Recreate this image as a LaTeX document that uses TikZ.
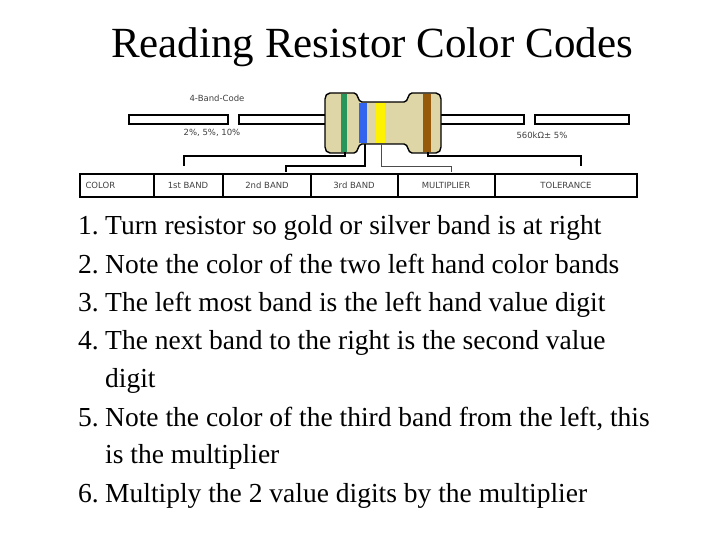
\documentclass[tikz,border=0pt]{standalone}
\usepackage{fontspec}
\setmainfont{Liberation Serif}
\newfontfamily\smallsans{DejaVu Sans}
\definecolor{bodytan}{RGB}{222,214,166}
\definecolor{bandgreen}{RGB}{40,150,90}
\definecolor{bandblue}{RGB}{50,100,240}
\definecolor{bandbrown}{RGB}{150,90,10}
\begin{document}
\begin{tikzpicture}[x=1pt,y=-1pt,
  wire/.style={draw=black,fill=white,line width=1.2pt},
  band/.style={draw=none},
  lead/.style={line width=1.6pt},
  cell/.style={font=\smallsans\fontsize{8.5}{9}\selectfont,text=black!75},
  item/.style={anchor=base west,font=\fontsize{27.5}{30}\selectfont,inner sep=0pt}]
\useasboundingbox (0,0) rectangle (720,540);
\node (title) at (372,47) {\fontsize{43}{46}\selectfont Reading Resistor Color Codes};
% leads
\draw[wire] (129,115) rectangle (228,124);
\draw[wire] (239,115) rectangle (327,124);
\draw[wire] (440,115) rectangle (524,124);
\draw[wire] (535,115) rectangle (629,124);
% body
\draw[line width=1.4pt,fill=bodytan]
  (330,93) -- (354,93) to[out=0,in=180] (362,102) -- (404,102) to[out=0,in=180] (412,93)
  -- (436,93) to[out=0,in=90] (441,99) -- (441,147) to[out=-90,in=0] (436,153) -- (412,153)
  to[out=180,in=0] (404,144) -- (362,144) to[out=180,in=0] (354,153) -- (330,153)
  to[out=180,in=-90] (325,147) -- (325,99) to[out=90,in=180] cycle;
\fill[band,bandgreen] (341,94) rectangle (347,152);
\fill[band,bandblue] (359,103) rectangle (367,143);
\fill[band,yellow] (376,103) rectangle (385,143);
\fill[band,bandbrown] (423,94) rectangle (431,152);
\node[cell] (code) at (217,98) {4-Band-Code};
\node[cell] (tol) at (212,133) {2\%, 5\%, 10\%};
\node[cell] (val) at (542,135) {560kΩ± 5\%};
% table
\draw[line width=1.6pt] (80,174) rectangle (637,197);
\foreach \x in {154,223,311,398,495} \draw[line width=1.2pt] (\x,174) -- (\x,197);
\node[cell,anchor=west] (color) at (82,185.5) {COLOR};
\node[cell] (b1) at (188,185.5) {1st BAND};
\node[cell] (b2) at (267,185.5) {2nd BAND};
\node[cell] (b3) at (354,185.5) {3rd BAND};
\node[cell] (mul) at (446,185.5) {MULTIPLIER};
\node[cell] (tl) at (566,185.5) {TOLERANCE};
% leaders
\draw[lead] (345,152) -- (345,156) -- (184,156) -- (184,166);
\draw[lead] (365,144) -- (365,166) -- (286,166) -- (286,172);
\draw[line width=0.8pt,black!70] (381,144) -- (381,166) -- (451,166) -- (451,172);
\draw[lead] (428,152) -- (428,156) -- (581,156) -- (581,166);
% list
\foreach \n/\y/\t in {1./235/Turn resistor so gold or silver band is at right,
  2./273/Note the color of the two left hand color bands,
  3./311/The left most band is the left hand value digit,
  4./349/The next band to the right is the second value,
  /387/digit,
  5./426/{Note the color of the third band from the left, this},
  /463/is the multiplier,
  6./502/Multiply the 2 value digits by the multiplier}{
  \node[item] (n\y) at (78,\y) {\n};
  \node[item] (t\y) at (105,\y) {\t};}
\end{tikzpicture}
\end{document}
